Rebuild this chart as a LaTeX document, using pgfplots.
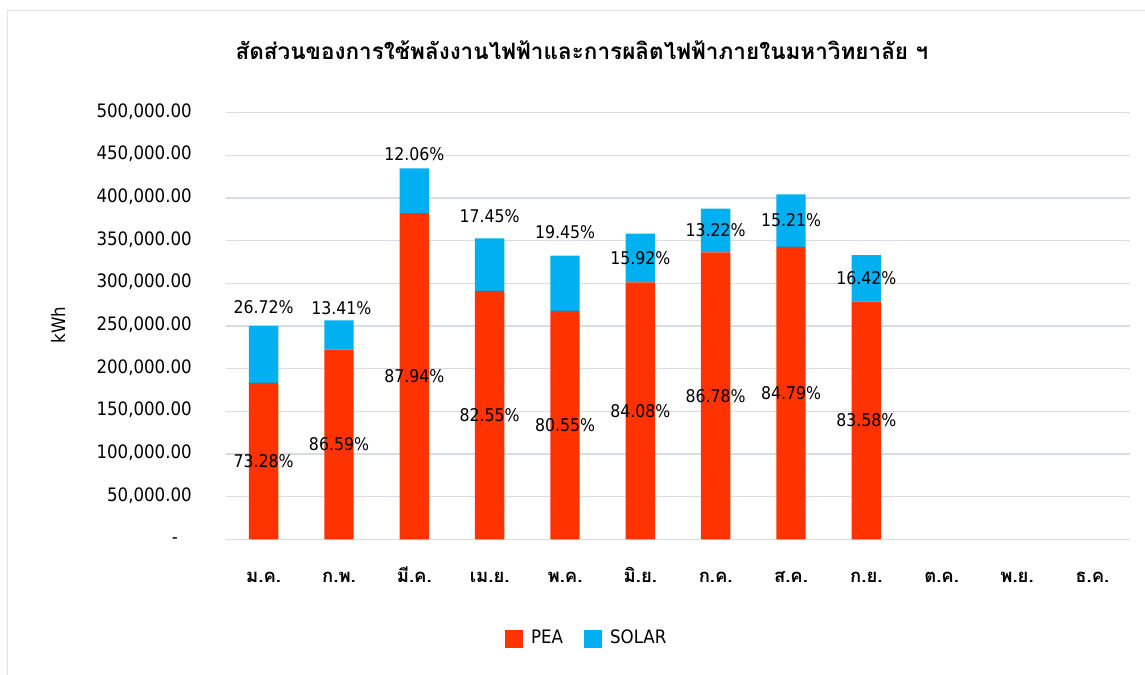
\documentclass[border=0pt]{standalone}
\usepackage{fontspec}
\usepackage{pgfplots}
\pgfplotsset{compat=1.18}
\setmainfont{DejaVu Sans Condensed}
\newfontfamily\thaifont[Script=Thai]{Loma}
\definecolor{pea}{HTML}{FF3300}
\definecolor{solar}{HTML}{00B0F0}
\definecolor{gridc}{HTML}{D9DDE3}
\definecolor{framec}{HTML}{DDE2E8}
\newcommand{\tfs}{\fontsize{18.5bp}{22bp}\selectfont}
\newcommand{\lfs}{\fontsize{17.5bp}{20bp}\selectfont}
\begin{document}
\begin{tikzpicture}[x=1bp,y=1bp]
\useasboundingbox (0,0) rectangle (1145,675);
\draw[framec, line width=1.3bp] (7.3,-5) -- (7.3,664.3) -- (1150,664.3);
\begin{axis}[
  at={(226bp,135.7bp)}, anchor=south west,
  width=904bp, height=426.6bp, scale only axis,
  xmin=-0.5, xmax=11.5, ymin=0, ymax=500000,
  scaled y ticks=false,
  ybar stacked, bar width=29.4bp,
  axis line style={draw=none},
  major tick length=0pt,
  tick style={draw=none},
  ymajorgrids,
  grid style={gridc, line width=1.3bp},
  ytick={0,50000,...,500000},
  yticklabels={{\makebox[20bp][l]{-}},{50,000.00},{100,000.00},{150,000.00},{200,000.00},{250,000.00},{300,000.00},{350,000.00},{400,000.00},{450,000.00},{500,000.00}},
  yticklabel style={anchor=base east, inner sep=0pt, xshift=-34bp, yshift=-4.5bp, font=\tfs},
  xtick={0,...,11},
  xticklabels={ม.ค.,ก.พ.,มี.ค.,เม.ย.,พ.ค.,มิ.ย.,ก.ค.,ส.ค.,ก.ย.,ต.ค.,พ.ย.,ธ.ค.},
  xticklabel style={anchor=base, inner sep=0pt, yshift=-43.7bp, font=\thaifont\tfs\bfseries},
  legend columns=2,
  legend style={at={(0.3086,-0.2548)}, anchor=south west, draw=none, inner sep=0pt,
    nodes={inner sep=0pt, anchor=base west, font=\tfs},
    /tikz/every odd column/.append style={column sep=8bp},
    /tikz/every even column/.append style={column sep=21bp}},
  legend image code/.code={\fill[#1] (0bp,-4.7bp) rectangle (18bp,13.3bp);},
  clip=false,
]
\addplot[fill=pea, draw=none] coordinates {(0,183200) (1,222280) (2,382360) (3,291240) (4,267750) (5,301170) (6,336270) (7,342810) (8,278490)};
\addplot[fill=solar, draw=none] coordinates {(0,66800) (1,34420) (2,52440) (3,61560) (4,64650) (5,57030) (6,51230) (7,61490) (8,54710)};
\legend{PEA,SOLAR}
% PEA label positions
\coordinate (p0) at (axis cs:0,91600);
\coordinate (p1) at (axis cs:1,111140);
\coordinate (p2) at (axis cs:2,191180);
\coordinate (p3) at (axis cs:3,145620);
\coordinate (p4) at (axis cs:4,133875);
\coordinate (p5) at (axis cs:5,150585);
\coordinate (p6) at (axis cs:6,168135);
\coordinate (p7) at (axis cs:7,171405);
\coordinate (p8) at (axis cs:8,139245);
% SOLAR label positions
\coordinate (s0) at (axis cs:0,272600);
\coordinate (s1) at (axis cs:1.03,271100);
\coordinate (s2) at (axis cs:2,451600);
\coordinate (s3) at (axis cs:3,378900);
\coordinate (s4) at (axis cs:4,360500);
\coordinate (s5) at (axis cs:5,329685);
\coordinate (s6) at (axis cs:6,361885);
\coordinate (s7) at (axis cs:7,373555);
\coordinate (s8) at (axis cs:8,305845);
\end{axis}
\begin{scope}[every node/.style={font=\lfs}]
\node at (p0) {73.28\%};
\node at (p1) {86.59\%};
\node at (p2) {87.94\%};
\node at (p3) {82.55\%};
\node at (p4) {80.55\%};
\node at (p5) {84.08\%};
\node at (p6) {86.78\%};
\node at (p7) {84.79\%};
\node at (p8) {83.58\%};
\node at (s0) {26.72\%};
\node at (s1) {13.41\%};
\node at (s2) {12.06\%};
\node at (s3) {17.45\%};
\node at (s4) {19.45\%};
\node at (s5) {15.92\%};
\node at (s6) {13.22\%};
\node at (s7) {15.21\%};
\node at (s8) {16.42\%};
\end{scope}
\node[anchor=base, font=\thaifont\fontsize{22.5bp}{26bp}\selectfont\bfseries] at (582,615) {สัดส่วนของการใช้พลังงานไฟฟ้าและการผลิตไฟฟ้าภายในมหาวิทยาลัย ฯ};
\node[rotate=90, font=\tfs] at (58,350) {kWh};
\end{tikzpicture}
\end{document}
